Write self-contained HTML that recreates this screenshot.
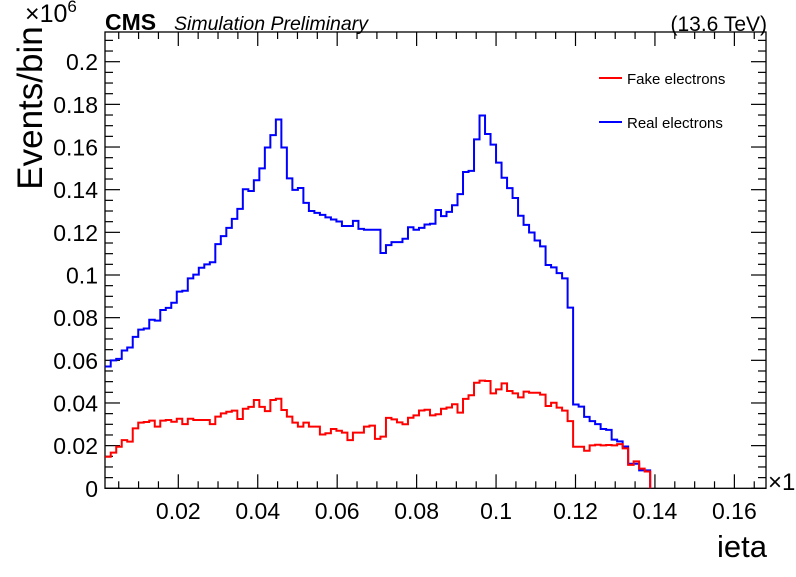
<!DOCTYPE html>
<html><head><meta charset="utf-8"><style>
body{margin:0;background:#fff;}
svg text{font-family:"Liberation Sans",sans-serif;fill:#000;}
</style></head><body>
<svg id="chart" width="796" height="572" viewBox="0 0 796 572" xmlns="http://www.w3.org/2000/svg">
<g id="axes"></g>
<g id="series"></g>
<text x="105" y="30" font-size="23" font-weight="bold">CMS</text>
<text x="174" y="30" font-size="19.5" font-style="italic">Simulation Preliminary</text>
<text x="767" y="31" font-size="21" text-anchor="end">(13.6 TeV)</text>
<text x="25" y="22" font-size="25">×10<tspan dy="-10" font-size="17">6</tspan></text>
<text transform="translate(42,108) rotate(-90)" font-size="35" text-anchor="middle">Events/bin</text>
<text x="767" y="557" font-size="31" text-anchor="end">ieta</text>
<text x="768" y="490" font-size="24">×1</text>
<g>
<g><line x1="599" y1="78" x2="622" y2="78" stroke="#ff0000" stroke-width="2"/><text x="627" y="84" font-size="15">Fake electrons</text></g>
<g><line x1="599" y1="122" x2="622" y2="122" stroke="#0000ff" stroke-width="2"/><text x="627" y="128" font-size="15">Real electrons</text></g>
</g>
</svg>
<script>
const xTicks=[0.02,0.04,0.06,0.08,0.1,0.12,0.14,0.16];
const xTickLabels=["0.02","0.04","0.06","0.08","0.1","0.12","0.14","0.16"];
const yTicks=[0,0.02,0.04,0.06,0.08,0.1,0.12,0.14,0.16,0.18,0.2];
const yTickLabels=["0","0.02","0.04","0.06","0.08","0.1","0.12","0.14","0.16","0.18","0.2"];
const binLow=0.0016;
const binHigh=0.1388;
const realElectrons=[0.0571,0.060,0.0607,0.0646,0.066,0.071,0.0744,0.0749,0.079,0.0786,0.0836,0.0846,0.087,0.0922,0.0926,0.0984,0.1002,0.1034,0.105,0.106,0.1145,0.1182,0.1221,0.1263,0.131,0.1402,0.1394,0.1444,0.15,0.1598,0.1656,0.1729,0.1598,0.1453,0.1399,
0.1408,0.1338,0.130,0.1291,0.1282,0.127,0.126,0.1251,0.123,0.123,0.1254,0.1216,0.1212,0.1212,0.1212,0.1103,0.114,0.1154,0.1154,0.117,0.1224,0.1212,0.1221,0.1237,0.124,0.1305,0.1276,0.1296,0.1327,0.1379,0.1483,0.1488,0.1636,0.1748,
0.1661,0.1611,0.1527,0.1456,0.1407,0.1361,0.1278,0.1235,0.1199,0.1162,0.1134,0.1047,0.1036,0.1009,0.0984,0.0847,0.0393,0.0383,0.0335,0.0315,0.0301,0.0278,0.0274,0.0228,0.022,0.0196,0.0115,0.0115,0.0084,0.0084];
const fakeElectrons=[0.0148,0.0167,0.0195,0.0226,0.0219,0.0281,0.0308,0.0311,0.0317,0.0289,0.0317,0.032,0.0312,0.0326,0.0301,0.0326,0.032,0.032,0.032,0.0301,0.0336,0.0351,0.0359,0.0364,0.0325,0.0373,0.0382,0.0414,0.0382,0.0362,0.0414,0.042,0.0367,0.0336,0.0308,
0.0289,0.0308,0.0289,0.0289,0.0252,0.0258,0.0278,0.027,0.0261,0.0226,0.0261,0.0261,0.0289,0.0294,0.0232,0.0242,0.033,0.0323,0.0309,0.030,0.0331,0.0342,0.0365,0.0368,0.0342,0.0347,0.0373,0.0379,0.0394,0.0355,0.0419,0.0436,0.0495,0.0505,
0.0503,0.0445,0.0464,0.0492,0.0456,0.0445,0.0426,0.0453,0.0448,0.0448,0.0439,0.0386,0.0401,0.0378,0.0364,0.0315,0.0195,0.0195,0.0176,0.0201,0.0204,0.0201,0.0203,0.0201,0.0207,0.0187,0.011,0.0126,0.0092,0.0079];

const L=105,R=766,T=32,B=488.3;
const xs=v=>178.3+(v-0.02)*3972;
const ys=v=>B-v*2133;
const NS="http://www.w3.org/2000/svg";
const axes=document.getElementById('axes');
const series=document.getElementById('series');
function mk(tag,attrs,parent){const e=document.createElementNS(NS,tag);for(const k in attrs)e.setAttribute(k,attrs[k]);parent.appendChild(e);return e;}
const frame=mk('rect',{x:L,y:T,width:R-L,height:B-T,fill:'none',stroke:'#000','stroke-width':1.3},axes);


for(let i=0;i<=33;i++){const v=0.005*i;const x=xs(v);if(x<L+1||x>R-1)continue;const major=Math.abs(v/0.02-Math.round(v/0.02))<1e-6;const len=major?14:7;
 mk('line',{x1:x,y1:B,x2:x,y2:B-len,stroke:'#000','stroke-width':1.2},axes);
 mk('line',{x1:x,y1:T,x2:x,y2:T+len,stroke:'#000','stroke-width':1.2},axes);}
xTicks.forEach((v,i)=>{const t=mk('text',{x:xs(v),y:519,'font-size':23,'text-anchor':'middle'},axes);t.textContent=xTickLabels[i];
 
 });
for(let i=0;i<=42;i++){const v=0.005*i;const y=ys(v);if(y<T+1)continue;const major=i%4===0;const len=major?15:8;
 mk('line',{x1:L,y1:y,x2:L+len,y2:y,stroke:'#000','stroke-width':1.2},axes);
 mk('line',{x1:R,y1:y,x2:R-len,y2:y,stroke:'#000','stroke-width':1.2},axes);}
yTicks.forEach((v,i)=>{const t=mk('text',{x:98,y:ys(v)+8.5,'font-size':23,'text-anchor':'end'},axes);t.textContent=yTickLabels[i];
 
 });
function hist(vals,color,name){const n=vals.length;const w=(binHigh-binLow)/n;let d='M'+xs(binLow)+','+ys(vals[0]);
 for(let i=0;i<n;i++){const x0=xs(binLow+i*w),x1=xs(binLow+(i+1)*w);d+=' L'+x0+','+ys(vals[i])+' L'+x1+','+ys(vals[i]);}
 d+=' L'+xs(binHigh)+','+ys(0);
 const p=mk('path',{d:d,fill:'none',stroke:color,'stroke-width':2},series);
 
 }
hist(realElectrons,'#0000ff','real-electrons-histogram');
hist(fakeElectrons,'#ff0000','fake-electrons-histogram');
</script>
</body></html>
